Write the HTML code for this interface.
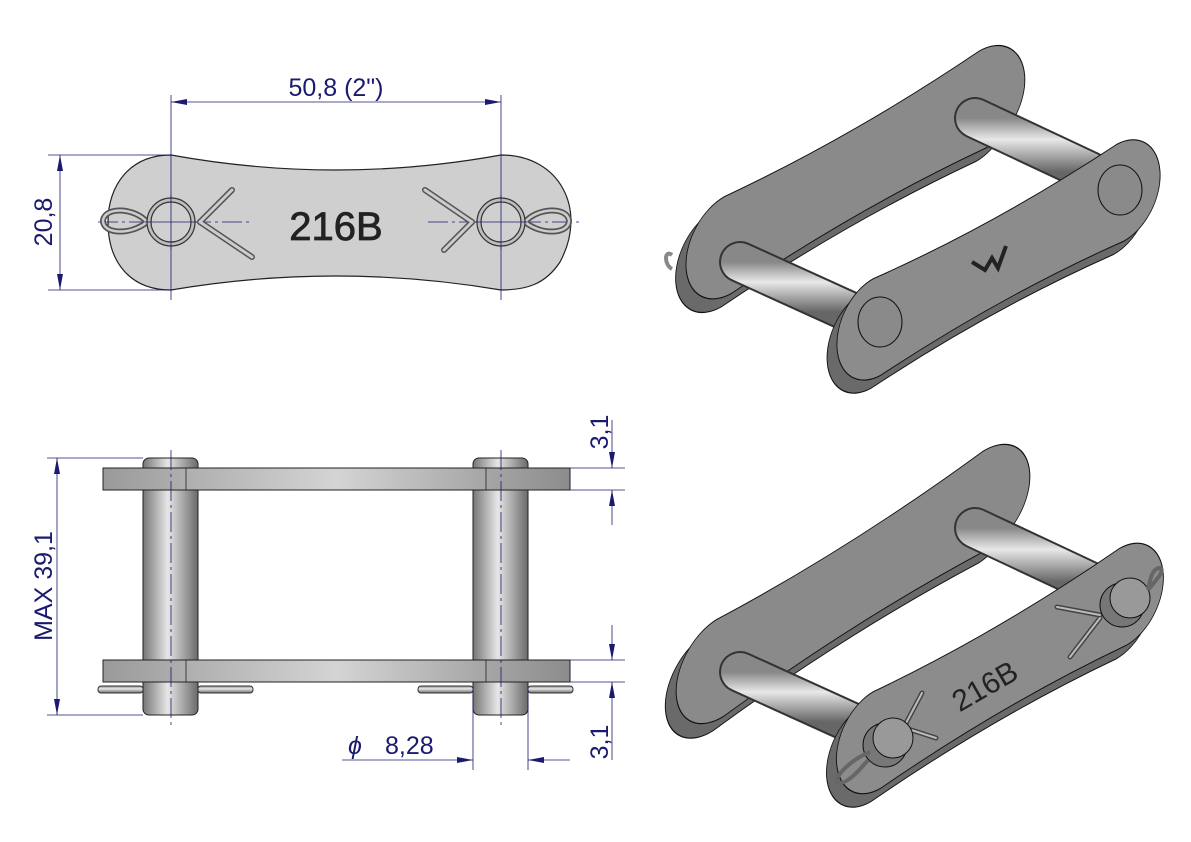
<!DOCTYPE html>
<html><head><meta charset="utf-8"><style>
html,body{margin:0;padding:0;background:#fff;}
svg{display:block;}
.dim{fill:#1a1a6e;font-family:"Liberation Sans",sans-serif;font-size:25px;}
</style></head><body>
<svg width="1191" height="842" viewBox="0 0 1191 842" xmlns="http://www.w3.org/2000/svg">
<defs>
<linearGradient id="pinV" x1="0" x2="1" y1="0" y2="0">
<stop offset="0" stop-color="#777"/><stop offset="0.45" stop-color="#e6e6e6"/><stop offset="1" stop-color="#6a6a6a"/></linearGradient>
<linearGradient id="plateH" x1="0" x2="1"><stop offset="0" stop-color="#9a9a9a"/><stop offset="0.5" stop-color="#d4d4d4"/><stop offset="1" stop-color="#8c8c8c"/></linearGradient>
<linearGradient id="pinD" x1="0" y1="0" x2="0" y2="1"><stop offset="0" stop-color="#888"/><stop offset="0.4" stop-color="#e8e8e8"/><stop offset="1" stop-color="#666"/></linearGradient>
<marker id="ar" viewBox="0 0 16 6" refX="16" refY="3" markerWidth="16" markerHeight="6" orient="auto-start-reverse" markerUnits="userSpaceOnUse"><path d="M0,0 L16,3 L0,6 Z" fill="#1a1a6e"/></marker>
<path id="bone" d="M0,-46 Q140,-34 280,-46 A46,46 0 0 1 280,46 Q140,34 0,46 A46,46 0 0 1 0,-46 Z"/>
</defs>

<!-- TOP LEFT VIEW -->
<path d="M171,155 Q336,185 501,155 C560,155 588,210 560,262 C545,285 525,290 501,290 Q336,262 171,290 C130,290 108,262 108,222 C108,185 130,155 171,155 Z" fill="#cfcfcf" stroke="#222" stroke-width="1.2"/>
<g stroke="#1a1a6e" stroke-width="0.8" fill="none">
<line x1="171" y1="95" x2="171" y2="300"/><line x1="501" y1="95" x2="501" y2="300"/>
<line x1="98" y1="222" x2="250" y2="222" stroke-dasharray="20,4,3,4"/><line x1="428" y1="222" x2="580" y2="222" stroke-dasharray="20,4,3,4"/>
<line x1="48" y1="155" x2="171" y2="155"/><line x1="48" y1="290" x2="171" y2="290"/>
<line x1="171" y1="102" x2="501" y2="102" marker-start="url(#ar)" marker-end="url(#ar)"/>
<line x1="60" y1="155" x2="60" y2="290" marker-start="url(#ar)" marker-end="url(#ar)"/>
</g>
<g stroke="#555" stroke-width="6" stroke-linecap="round">
<line x1="200" y1="222" x2="232" y2="190"/><line x1="200" y1="222" x2="252" y2="257"/>
<line x1="472" y1="222" x2="425" y2="190"/><line x1="472" y1="222" x2="444" y2="250"/>
</g>
<g stroke="#ccc" stroke-width="3" stroke-linecap="round">
<line x1="200" y1="222" x2="232" y2="190"/><line x1="200" y1="222" x2="252" y2="257"/>
<line x1="472" y1="222" x2="425" y2="190"/><line x1="472" y1="222" x2="444" y2="250"/>
</g>
<g fill="none">
<path d="M147,222 C135,208 106,206 103,220 C102,234 130,236 147,222 Z" stroke-width="6" stroke="#555"/>
<path d="M147,222 C135,208 106,206 103,220 C102,234 130,236 147,222 Z" stroke-width="2.5" stroke="#ccc"/>
<path d="M525,222 C537,208 566,206 569,220 C570,234 542,236 525,222 Z" stroke-width="6" stroke="#555"/>
<path d="M525,222 C537,208 566,206 569,220 C570,234 542,236 525,222 Z" stroke-width="2.5" stroke="#ccc"/>
</g>
<g stroke="#333" stroke-width="1.2" fill="#bdbdbd">
<circle cx="171" cy="222" r="24"/><circle cx="171" cy="222" r="20" fill="#d0d0d0"/>
<circle cx="501" cy="222" r="24"/><circle cx="501" cy="222" r="20" fill="#d0d0d0"/>
</g>
<g stroke="#1a1a6e" stroke-width="0.8"><line x1="171" y1="195" x2="171" y2="250"/><line x1="501" y1="195" x2="501" y2="250"/><line x1="145" y1="222" x2="197" y2="222"/><line x1="475" y1="222" x2="527" y2="222"/></g>
<text x="336" y="240" text-anchor="middle" font-family="Liberation Sans,sans-serif" font-size="40" fill="#222" stroke="#222" stroke-width="0.8">216B</text>
<text class="dim" x="336" y="96" text-anchor="middle">50,8  (2")</text>
<text class="dim" transform="translate(52,222) rotate(-90)" text-anchor="middle">20,8</text>

<!-- BOTTOM LEFT VIEW -->
<rect x="143" y="458" width="55" height="257" rx="6" fill="url(#pinV)" stroke="#222"/>
<rect x="473" y="458" width="55" height="257" rx="6" fill="url(#pinV)" stroke="#222"/>
<rect x="103" y="468" width="467" height="22" fill="url(#plateH)" stroke="#222"/>
<rect x="103" y="660" width="467" height="22" fill="url(#plateH)" stroke="#222"/>
<g stroke="#222" stroke-width="0.8"><line x1="186" y1="468" x2="186" y2="490"/><line x1="486" y1="468" x2="486" y2="490"/><line x1="186" y1="660" x2="186" y2="682"/><line x1="486" y1="660" x2="486" y2="682"/></g>
<g fill="url(#pinD)" stroke="#333" stroke-width="1">
<rect x="98" y="686" width="45" height="7" rx="3"/><rect x="198" y="686" width="55" height="7" rx="3"/>
<rect x="418" y="686" width="55" height="7" rx="3"/><rect x="528" y="686" width="45" height="7" rx="3"/>
</g>
<g stroke="#1a1a6e" stroke-width="0.8" fill="none">
<line x1="171" y1="450" x2="171" y2="725" stroke-dasharray="20,4,3,4"/><line x1="501" y1="450" x2="501" y2="725" stroke-dasharray="20,4,3,4"/>
<line x1="47" y1="458" x2="143" y2="458"/><line x1="47" y1="715" x2="143" y2="715"/>
<line x1="57" y1="458" x2="57" y2="715" marker-start="url(#ar)" marker-end="url(#ar)"/>
<line x1="570" y1="468" x2="625" y2="468"/><line x1="570" y1="490" x2="625" y2="490"/>
<line x1="570" y1="660" x2="625" y2="660"/><line x1="570" y1="682" x2="625" y2="682"/>
<line x1="612" y1="420" x2="612" y2="468" marker-end="url(#ar)"/><line x1="612" y1="490" x2="612" y2="525" marker-start="url(#ar)"/>
<line x1="612" y1="625" x2="612" y2="660" marker-end="url(#ar)"/><line x1="612" y1="682" x2="612" y2="760" marker-start="url(#ar)"/>
<line x1="473" y1="690" x2="473" y2="770"/><line x1="528" y1="690" x2="528" y2="770"/>
<line x1="342" y1="760" x2="473" y2="760" marker-end="url(#ar)"/><line x1="570" y1="760" x2="528" y2="760" marker-end="url(#ar)"/>
</g>
<text class="dim" transform="translate(608,432) rotate(-90)" text-anchor="middle">3,1</text>
<text class="dim" transform="translate(608,742) rotate(-90)" text-anchor="middle">3,1</text>
<text class="dim" transform="translate(52,586) rotate(-90)" text-anchor="middle">MAX  39,1</text>
<text class="dim" x="348" y="754" font-style="italic" font-size="30">ϕ</text>
<text class="dim" x="385" y="754">8,28</text>

<!-- TOP RIGHT 3D -->
<g>
<g transform="matrix(0.91,-0.52,0.08,1.05,728,245)">
<use href="#bone" transform="translate(-12,7)" fill="#6a6a6a" stroke="#111"/>
<use href="#bone" fill="#8a8a8a" stroke="#111"/>
</g>
<path d="M672,255 c-8,-6 -8,10 0,14" fill="none" stroke="#888" stroke-width="4"/>
<line x1="740" y1="262" x2="850" y2="312" stroke="#333" stroke-width="42" stroke-linecap="round"/>
<line x1="740" y1="262" x2="850" y2="312" stroke="url(#pinD)" stroke-width="38" stroke-linecap="round"/>
<line x1="975" y1="118" x2="1090" y2="172" stroke="#333" stroke-width="42" stroke-linecap="round"/>
<line x1="975" y1="118" x2="1090" y2="172" stroke="url(#pinD)" stroke-width="38" stroke-linecap="round"/>
<g transform="matrix(0.868,-0.479,0.08,1.05,877,327)">
<use href="#bone" transform="translate(-12,7)" fill="#6a6a6a" stroke="#111"/>
<use href="#bone" fill="#8c8c8c" stroke="#111"/>
</g>
<ellipse cx="880" cy="322" rx="22" ry="25" fill="#8a8a8a" stroke="#111"/>
<ellipse cx="1120" cy="190" rx="22" ry="25" fill="#8a8a8a" stroke="#111"/>
<path d="M972,262 L985,270 L992,258 L998,268 L1006,246" fill="none" stroke="#222" stroke-width="4"/>
</g>

<!-- BOTTOM RIGHT 3D -->
<g>
<g transform="matrix(0.95,-0.6,0.08,1.05,720,668)">
<use href="#bone" transform="translate(-12,7)" fill="#6a6a6a" stroke="#111"/>
<use href="#bone" fill="#8a8a8a" stroke="#111"/>
</g>
<line x1="740" y1="672" x2="850" y2="722" stroke="#333" stroke-width="42" stroke-linecap="round"/>
<line x1="740" y1="672" x2="850" y2="722" stroke="url(#pinD)" stroke-width="38" stroke-linecap="round"/>
<line x1="975" y1="528" x2="1090" y2="582" stroke="#333" stroke-width="42" stroke-linecap="round"/>
<line x1="975" y1="528" x2="1090" y2="582" stroke="url(#pinD)" stroke-width="38" stroke-linecap="round"/>
<g transform="matrix(0.878,-0.511,0.08,1.05,877,740)">
<use href="#bone" transform="translate(-12,7)" fill="#6a6a6a" stroke="#111"/>
<use href="#bone" fill="#8c8c8c" stroke="#111"/>
</g>
<g stroke="#444" stroke-width="5" stroke-linecap="round" fill="none">
<line x1="905" y1="725" x2="922" y2="693"/><line x1="905" y1="728" x2="936" y2="738"/>
<line x1="1100" y1="615" x2="1057" y2="607"/><line x1="1100" y1="618" x2="1070" y2="657"/>
</g>
<g stroke="#bbb" stroke-width="2" stroke-linecap="round" fill="none">
<line x1="905" y1="725" x2="922" y2="693"/><line x1="905" y1="728" x2="936" y2="738"/>
<line x1="1100" y1="615" x2="1057" y2="607"/><line x1="1100" y1="618" x2="1070" y2="657"/>
</g>
<ellipse cx="885" cy="745" rx="22" ry="22" fill="#777" stroke="#111"/>
<ellipse cx="893" cy="738" rx="20" ry="20" fill="#999" stroke="#111"/>
<ellipse cx="1122" cy="605" rx="22" ry="22" fill="#777" stroke="#111"/>
<ellipse cx="1130" cy="598" rx="20" ry="20" fill="#999" stroke="#111"/>
<g stroke="#666" stroke-width="4" fill="none">
<path d="M870,752 C850,760 833,778 838,782 C845,786 858,772 868,760"/>
<path d="M1148,590 C1158,578 1165,570 1160,568 C1152,568 1150,580 1148,590"/>
</g>
<text transform="translate(990,695) rotate(-30)" text-anchor="middle" font-family="Liberation Sans,sans-serif" font-size="30" fill="#222">216B</text>
</g>
</svg>
</body></html>
